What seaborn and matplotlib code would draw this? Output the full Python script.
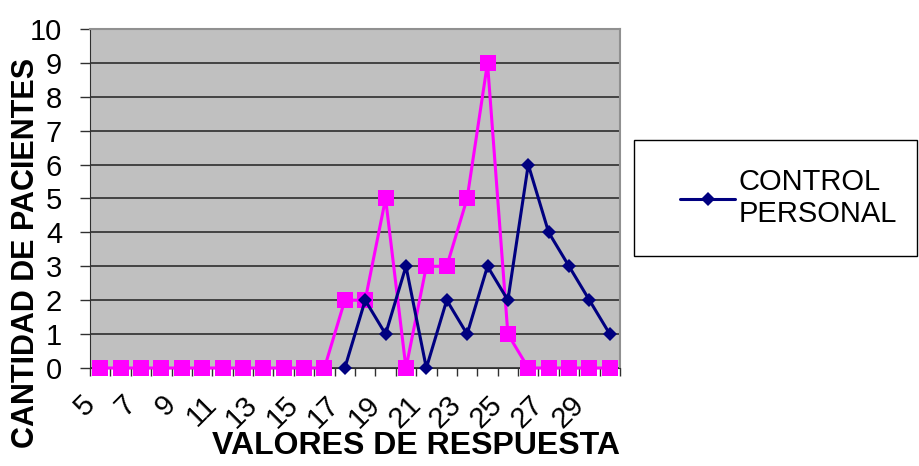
import matplotlib.pyplot as plt
import matplotlib.patches as mpatches
import matplotlib.transforms as mtransforms
import numpy as np
import pandas as pd
import seaborn as sns

valores = list(range(5, 31))
control_x = list(range(17, 31))
control_personal = [0, 2, 1, 3, 0, 2, 1, 3, 2, 6, 4, 3, 2, 1]
otro_grupo = [0, 0, 0, 0, 0, 0, 0, 0, 0, 0, 0, 0,
              2, 2, 5, 0, 3, 3, 5, 9, 1, 0, 0, 0, 0, 0]
tick_labels = [str(v) for v in range(5, 30, 2)]


def main():
    sns.set_style("white")
    plt.rcParams["font.family"] = ["Liberation Sans", "DejaVu Sans"]
    plt.rcParams["text.color"] = "black"
    plt.rcParams["axes.labelcolor"] = "black"
    plt.rcParams["xtick.color"] = "black"
    plt.rcParams["ytick.color"] = "black"

    fig = plt.figure(figsize=(9.19, 4.66), dpi=100, facecolor="w")
    ax = fig.add_axes([90 / 919, 1 - 368 / 466, 530 / 919, 339 / 466])
    ax.set_facecolor("#C0C0C0")

    df_otro = pd.DataFrame({"x": valores, "y": otro_grupo})
    df_ctrl = pd.DataFrame({"x": control_x, "y": control_personal})

    sns.lineplot(data=df_otro, x="x", y="y", ax=ax, color="#FF00FF",
                 linewidth=2.2, marker="s", markersize=11, markeredgewidth=0,
                 label="_nolegend_", legend=False, zorder=3, clip_on=False)
    sns.lineplot(data=df_ctrl, x="x", y="y", ax=ax, color="#000080",
                 linewidth=2.2, marker="D", markersize=7.5, markeredgewidth=0,
                 label="CONTROL\nPERSONAL", zorder=4, clip_on=False)

    ax.set_xlim(4.5, 30.5)
    ax.set_ylim(0, 10)
    ax.set_yticks(range(0, 11))
    ax.yaxis.grid(True, color="#202020", linewidth=1.1)
    ax.set_axisbelow(True)

    ax.set_xticks(range(5, 30, 2))
    ax.set_xticklabels(tick_labels, rotation=45, ha="right", va="top",
                       fontsize=21)
    shift = mtransforms.ScaledTranslation(0.07, 0, fig.dpi_scale_trans)
    for lbl in ax.get_xticklabels():
        lbl.set_transform(lbl.get_transform() + shift)
    ax.set_xticks(np.arange(4.5, 31, 1), minor=True)
    ax.tick_params(axis="x", which="major", length=0, pad=16)
    ax.tick_params(axis="x", which="minor", length=6, width=1, direction="out",
                   color="#303030", bottom=True)
    ax.tick_params(axis="y", length=7, width=1, direction="out", left=True,
                   color="#303030", labelsize=21, pad=13)

    for side in ["top", "right"]:
        ax.spines[side].set_color("#909090")
        ax.spines[side].set_linewidth(1.5)
    ax.spines["left"].set_color("#303030")
    ax.spines["bottom"].set_color("#303030")

    ax.set_xlabel("VALORES DE RESPUESTA", fontsize=23, fontweight="bold")
    ax.xaxis.label.set_va("center")
    ax.xaxis.set_label_coords(0.615, -0.229)
    ax.set_ylabel("CANTIDAD DE PACIENTES", fontsize=22, fontweight="bold")
    ax.yaxis.label.set_va("center")
    ax.yaxis.set_label_coords(-0.121, 0.34)

    leg = ax.legend(loc="center left", bbox_to_anchor=(680 / 919, 1 - 198 / 466),
                    bbox_transform=fig.transFigure, fontsize=21, frameon=False,
                    handlelength=1.9, borderpad=0, borderaxespad=0,
                    handletextpad=0.1, labelspacing=0.2)
    box = mpatches.Rectangle((634 / 919, 1 - 256 / 466), 283 / 919, 116 / 466,
                             transform=fig.transFigure, fill=False,
                             edgecolor="black", linewidth=1)
    fig.patches.append(box)

    plt.savefig("out.png", dpi=100)


if __name__ == "__main__":
    main()
